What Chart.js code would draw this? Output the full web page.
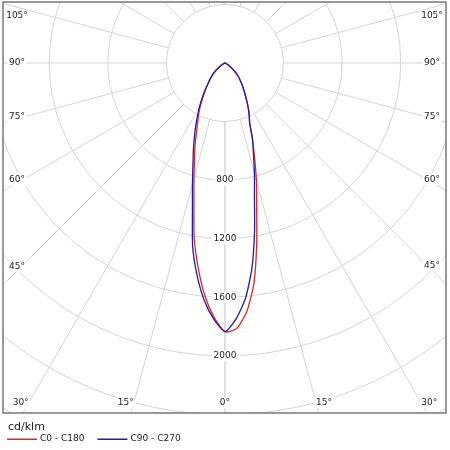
<!DOCTYPE html>
<html lang="en">
<head>
<meta charset="UTF-8" />
<title>Light distribution curve</title>
<script src="https://cdn.jsdelivr.net/npm/chart.js@4"></script>
<style>
  html, body { margin: 0; padding: 0; background: #fff; }
  #chart { display: block; }
</style>
</head>
<body>
<canvas id="chart" width="450" height="450"></canvas>
<script>
// gamma angles (0 = straight down) and intensities in cd/klm
const gammaAngles = [0, 2.5, 5, 7.5, 10, 12.5, 15, 17.5, 20, 22.5, 25, 27.5, 30, 35, 40, 45, 50, 55, 60, 65, 70, 75, 80, 85, 90];
const c0   = [1834, 1815, 1705, 1517, 1250, 1000, 830, 670, 545, 440, 395, 345, 297, 225, 170, 128, 83, 42, 18, 8, 4, 2, 1, 0, 0];
const c180 = [1834, 1735, 1590, 1405, 1210, 978, 818, 692, 595, 505, 440, 385, 335, 240, 172, 128, 84, 42, 18, 8, 4, 2, 1, 0, 0];
const c90  = [1834, 1748, 1612, 1412, 1165, 930, 778, 647, 549, 440, 390, 343, 297, 225, 170, 128, 83, 42, 18, 8, 4, 2, 1, 0, 0];
const c270 = [1834, 1750, 1625, 1460, 1270, 1025, 857, 726, 629, 544, 470, 405, 350, 250, 175, 130, 85, 42, 18, 8, 4, 2, 1, 0, 0];

const seriesLabels = ["C0 - C180", "C90 - C270"];
const seriesColors = ["#dc2828", "#1e1ea6"];
const unitLabel = "cd/klm";
const ringValues = [400, 800, 1200, 1600, 2000, 2400, 2800];
const ringLabels = [800, 1200, 1600, 2000];
const spokeAngles = [0, 15, 30, 45, 60, 75, 90, 105, 120, 135, 150, 165, 180];
const angleLabels = [0, 15, 30, 45, 60, 75, 90, 105];
const xRange = [-1515, 1509];
const yRange = [-2389, 416];

const FONT = "'DejaVu Sans', Verdana, sans-serif";

// left half goes down from 90deg to 0, right half back up to 90deg
function toPoints(rightSide, leftSide) {
	const pts = [];
	for (let i = gammaAngles.length - 1; i >= 0; i--) {
		const a = (gammaAngles[i] * Math.PI) / 180;
		pts.push({ x: -leftSide[i] * Math.sin(a), y: -leftSide[i] * Math.cos(a) });
	}
	for (let i = 1; i < gammaAngles.length; i++) {
		const a = (gammaAngles[i] * Math.PI) / 180;
		pts.push({ x: rightSide[i] * Math.sin(a), y: -rightSide[i] * Math.cos(a) });
	}
	return pts;
}

function labelBox(ctx, text, x, y, align) {
	const w = ctx.measureText(text).width;
	let left = x - w / 2;
	if (align === "left") left = x;
	if (align === "right") left = x - w;
	ctx.fillStyle = "#fff";
	ctx.fillRect(left - 1.5, y - 5.5, w + 3, 11);
	ctx.fillStyle = "#222";
	ctx.textAlign = "left";
	ctx.fillText(text, left, y);
}

const polarGrid = {
	id: "polarGrid",
	beforeDatasetsDraw(chart) {
		const { ctx, chartArea: area, scales } = chart;
		const cx = scales.x.getPixelForValue(0);
		const cy = scales.y.getPixelForValue(0);
		const rad = (v) => scales.x.getPixelForValue(v) - cx;

		ctx.save();
		ctx.beginPath();
		ctx.rect(area.left, area.top, area.width, area.height);
		ctx.clip();

		ctx.strokeStyle = "#d4d4d4";
		ctx.lineWidth = 1;
		ringValues.forEach((v) => {
			ctx.beginPath();
			ctx.arc(cx, cy, rad(v), 0, Math.PI * 2);
			ctx.stroke();
		});

		const inner = rad(ringValues[0]);
		const outer = rad(4000);
		spokeAngles.forEach((deg) => {
			const a = (deg * Math.PI) / 180;
			[1, -1].forEach((side) => {
				const dx = side * Math.sin(a);
				const dy = Math.cos(a);
				ctx.beginPath();
				ctx.moveTo(cx + dx * inner, cy + dy * inner);
				ctx.lineTo(cx + dx * outer, cy + dy * outer);
				ctx.stroke();
			});
		});

		ctx.font = "9px " + FONT;
		ctx.textBaseline = "middle";
		ringLabels.forEach((v) => {
			labelBox(ctx, String(v), cx, cy + rad(v), "center");
		});

		// angle labels sit where each spoke meets the frame
		const xL = area.left + 14, xR = area.right - 14;
		const yT = area.top + 14, yB = area.bottom - 10;
		angleLabels.forEach((deg) => {
			const a = (deg * Math.PI) / 180;
			const s = Math.sin(a), c = Math.cos(a);
			[1, -1].forEach((side) => {
				if (deg === 0 && side < 0) return;
				const text = deg + "°";
				const tSide = s > 1e-6 ? (side > 0 ? xR - cx : cx - xL) / s : Infinity;
				const tBottom = c > 1e-6 ? (yB - cy) / c : Infinity;
				if (tSide < tBottom) {
					const x = side > 0 ? xR : xL;
					const y = Math.max(yT, cy + tSide * c - 6 * c);
					labelBox(ctx, text, x, y, "center");
				} else {
					let x = cx + side * tBottom * s;
					const w = ctx.measureText(text).width;
					if (deg === 0) {
						labelBox(ctx, text, x, yB, "center");
					} else if (side > 0) {
						x = Math.min(x, area.right - 5 - w);
						labelBox(ctx, text, x, yB, "left");
					} else {
						x = Math.max(x, area.left + 5 + w);
						labelBox(ctx, text, x, yB, "right");
					}
				}
			});
		});
		ctx.restore();
	},
	afterDraw(chart) {
		const { ctx, chartArea: area } = chart;
		ctx.save();
		ctx.strokeStyle = "#808080";
		ctx.lineWidth = 1.6;
		ctx.strokeRect(area.left, area.top, area.width, area.height);

		// unit + series key below the frame
		ctx.textAlign = "left";
		ctx.textBaseline = "middle";
		ctx.fillStyle = "#222";
		ctx.font = "11px " + FONT;
		ctx.fillText(unitLabel, 8, area.bottom + 14.5);

		ctx.font = "9px " + FONT;
		let lx = 7;
		const ly = Math.round(area.bottom + 26);
		seriesLabels.forEach((label, i) => {
			ctx.fillStyle = seriesColors[i];
			ctx.fillRect(lx, ly - 0.5, 30, 1.5);
			ctx.fillStyle = "#222";
			ctx.fillText(label, lx + 33, ly);
			lx += 33 + ctx.measureText(label).width + 13;
		});
		ctx.restore();
	},
};

new Chart(document.getElementById("chart"), {
	type: "scatter",
	data: {
		datasets: [
			{
				label: seriesLabels[0],
				data: toPoints(c0, c180),
				borderColor: seriesColors[0],
				showLine: true,
				order: 1,
			},
			{
				label: seriesLabels[1],
				data: toPoints(c90, c270),
				borderColor: seriesColors[1],
				showLine: true,
				order: 0,
			},
		],
	},
	options: {
		responsive: false,
		animation: false,
		layout: { padding: { left: 3, right: 4, top: 2, bottom: 37 } },
		elements: {
			point: { radius: 0, hoverRadius: 0 },
			line: { borderWidth: 1.3, tension: 0.2, fill: false },
		},
		scales: {
			x: { type: "linear", display: false, min: xRange[0], max: xRange[1] },
			y: { type: "linear", display: false, min: yRange[0], max: yRange[1] },
		},
		plugins: {
			legend: { display: false },
			tooltip: { enabled: false },
		},
	},
	plugins: [polarGrid],
});
</script>
</body>
</html>
